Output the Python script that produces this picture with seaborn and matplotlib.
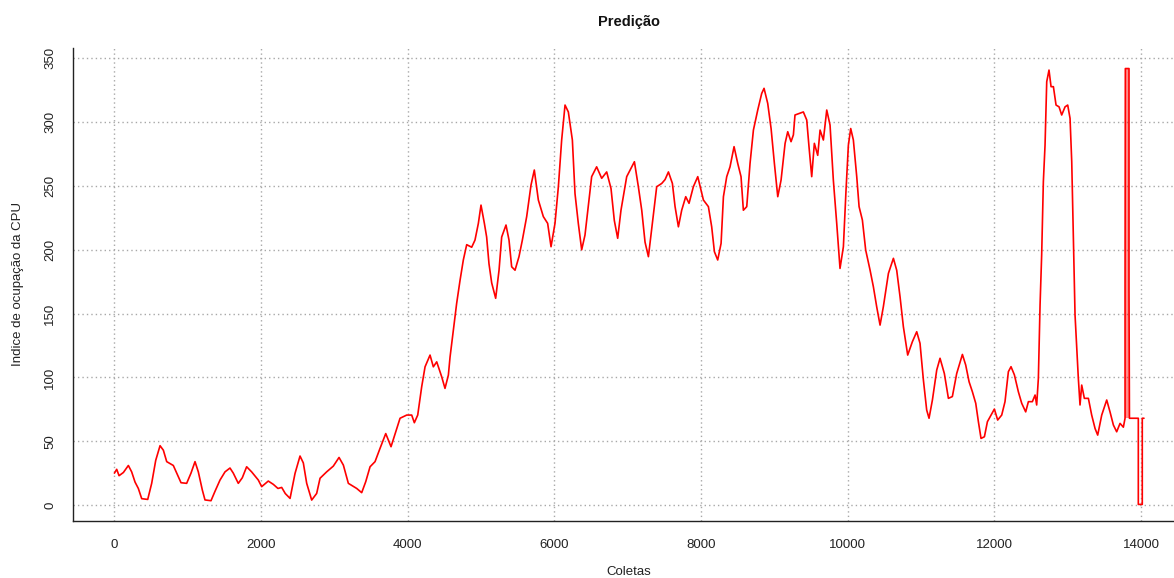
import numpy as np
import pandas as pd
import matplotlib
matplotlib.use("Agg")
import matplotlib.pyplot as plt
import seaborn as sns

# Série prevista: índice da coleta e ocupação da CPU
coleta = [
    0, 31, 63, 122, 190, 235, 281, 326, 372, 454, 508, 563, 622, 667, 713, 803,
    849, 908, 985, 1044, 1099, 1144, 1199, 1235, 1317, 1371, 1440, 1508, 1576,
    1621, 1689, 1744, 1803, 1871, 1962, 2008, 2098, 2167, 2230, 2281, 2330, 2395,
    2463, 2531, 2576, 2622, 2690, 2758, 2804, 2894, 2985, 3063, 3122, 3190, 3304,
    3372, 3427, 3486, 3554, 3622, 3700, 3772, 3836, 3895, 3986, 4054, 4090, 4136,
    4190, 4236, 4304, 4349, 4395, 4463, 4508, 4554, 4577, 4622, 4667, 4713, 4758,
    4804, 4872, 4917, 4963, 4999, 5045, 5076, 5108, 5145, 5199, 5245, 5281, 5340,
    5381, 5417, 5463, 5517, 5563, 5622, 5681, 5726, 5781, 5849, 5908, 5954, 6008,
    6054, 6099, 6145, 6190, 6245, 6281, 6326, 6372, 6417, 6472, 6508, 6576, 6645,
    6713, 6772, 6817, 6863, 6908, 6986, 7032, 7091, 7145, 7191, 7236, 7282, 7336,
    7395, 7464, 7509, 7555, 7609, 7645, 7691, 7736, 7791, 7836, 7895, 7955, 8000,
    8032, 8100, 8145, 8182, 8227, 8273, 8305, 8350, 8395, 8450, 8500, 8545, 8577,
    8623, 8668, 8714, 8773, 8827, 8859, 8909, 8955, 9000, 9046, 9091, 9146, 9182,
    9227, 9259, 9281, 9350, 9395, 9441, 9472, 9509, 9545, 9591, 9623, 9668, 9714,
    9759, 9804, 9850, 9895, 9941, 9977, 10009, 10041, 10077, 10123, 10155, 10200,
    10245, 10305, 10350, 10395, 10441, 10486, 10555, 10623, 10668, 10714, 10759,
    10818, 10882, 10941, 10986, 11032, 11077, 11109, 11155, 11214, 11259, 11318,
    11373, 11427, 11486, 11564, 11609, 11655, 11700, 11746, 11782, 11818, 11864,
    11905, 11955, 12000, 12045, 12100, 12145, 12191, 12227, 12273, 12327, 12373,
    12427, 12464, 12518, 12555, 12577, 12600, 12623, 12645, 12668, 12691, 12714,
    12745, 12773, 12805, 12841, 12882, 12918, 12964, 13000, 13032, 13055, 13078,
    13100, 13123, 13145, 13168, 13191, 13227, 13282, 13327, 13373, 13409, 13464,
    13532, 13577, 13623, 13668, 13714, 13759, 13782, 13782, 13786, 13836, 13836,
    13842, 13963, 13963, 14017, 14017, 14040,
]
ocupacao = [
    25, 28, 23, 25.5, 31, 26, 18, 13, 5, 4.4, 17, 35, 46.5, 43, 34, 31,
    25, 17.5, 17, 25, 34, 26, 11.7, 4, 3.4, 10.7, 19.6, 26, 29,
    25, 17, 21.4, 30, 26, 19.6, 14.4, 18.8, 16.2, 13, 13.8, 9, 5.2,
    24.8, 38.4, 33, 17, 3.9, 9.1, 21, 26, 30.5, 37.3, 31.3, 17, 13,
    9.7, 18.3, 30, 34, 44.4, 56, 45.7, 57.4, 68, 70.5, 70.5, 64.5, 70.5,
    92.6, 108.3, 117.5, 108.3, 112.2, 100.5, 91.4, 101.8, 116, 137, 158, 176, 192,
    204, 202, 207.6, 220.7, 235, 220.7, 210, 189, 174, 162, 184, 210, 219.4,
    207.6, 186.7, 184, 194.6, 207.6, 226, 250.7, 262.5, 239, 226, 220.7, 202.4, 220.7,
    249.4, 286, 313.4, 308, 286, 244, 220.7, 200, 211.5, 239, 257.3, 265, 256,
    261, 248, 223, 209, 231, 257.3, 262.5, 269, 249.4, 231, 206, 194.6, 220.7,
    249.4, 252, 255, 261, 252, 234, 218, 231, 241.6, 236.4, 249.4, 257.3, 246.8,
    239, 233.8, 218, 198.5, 192, 205, 241.6, 257.3, 265, 280.8, 267.7, 257.3, 231,
    233.8, 267.7, 293.8, 309.5, 322.5, 326.5, 314.7, 295, 267.7, 241.6, 254.6, 283.4, 292.5,
    284.7, 290, 305.6, 307, 308, 301.7, 280.8, 257.3, 283.4, 274, 293.8, 286, 309.5,
    297.7, 254.6, 220.7, 185.4, 202.4, 246.8, 282, 295, 286, 257.3, 233.8, 223.3,
    199.8, 184, 171, 155.4, 141, 155.4, 181.5, 193.3, 184, 163, 139.7,
    117.5, 128, 135.8, 126.7, 98, 74.4, 68, 82.3, 105.8, 115, 103,
    83.6, 85, 103, 118, 109.7, 96.6, 88.8, 79.7, 65.3, 52.2, 53.5,
    65.3, 70.5, 75.2, 66.6, 70.5, 81, 104.5, 108.4, 102, 88.8, 79.7,
    73, 81, 81, 86.2, 78.4, 99.3, 156.7, 196, 253.3, 282, 331.7,
    340.8, 327.8, 327.8, 313.4, 312, 305.6, 312, 313.4, 303, 269, 209,
    149, 122.8, 99.3, 78.4, 94, 83.6, 83.6, 70.5, 60, 54.8, 70.5,
    82.3, 73, 62.7, 57.4, 64, 61, 68, 170, 342, 342, 168,
    68, 68, 0.5, 0.5, 68, 68,
]

x_ticks = [0, 2000, 4000, 6000, 8000, 10000, 12000, 14000]
y_ticks = [0, 50, 100, 150, 200, 250, 300, 350]

sns.set_style("white")
plt.rcParams["font.family"] = ["Liberation Sans", "DejaVu Sans"]

W, H = 1174, 578
fig = plt.figure(figsize=(W / 100, H / 100), dpi=100)
ax = fig.add_axes([73 / W, 1 - 521 / H, 1111 / W, 473 / H])

df = pd.DataFrame({"Coletas": coleta, "cpu": ocupacao})
sns.lineplot(data=df, x="Coletas", y="cpu", sort=False, estimator=None,
             color="red", linewidth=1.2, ax=ax)

# Pico final: trecho denso entre o patamar anterior e o topo
x_arr = np.asarray(coleta, dtype=float)
y_arr = np.asarray(ocupacao, dtype=float)
topo = np.where((y_arr >= 340) & (x_arr > 13500))[0]
base = y_arr[topo[0] - 2]
ax.fill_between(x_arr[topo], base, y_arr[topo], color="red", alpha=0.45, lw=0)

ax.set_xlim(-565, 14586)
ax.set_ylim(-12.5, 358.1)
ax.set_xticks(x_ticks)
ax.set_yticks(y_ticks)
ax.set_xticklabels([str(v) for v in x_ticks])
ax.set_yticklabels([str(v) for v in y_ticks], rotation=90, va="center")

ax.grid(True, color="#a8a8a8", linestyle=(0, (1, 2.2)), linewidth=1.0)
ax.set_axisbelow(True)

for s in ("top", "right"):
    ax.spines[s].set_visible(False)
for s in ("left", "bottom"):
    ax.spines[s].set_color("#222222")
    ax.spines[s].set_linewidth(1.0)

ax.tick_params(axis="both", direction="out", length=5.5, width=1.0,
               color="#222222", labelsize=9.5, labelcolor="#222222")
ax.tick_params(axis="x", pad=7.5)
ax.tick_params(axis="y", pad=6.5)

ax.set_title("Predição", fontsize=10.5, fontweight="bold", pad=16, color="#111111")
ax.set_xlabel("Coletas", fontsize=9.5, color="#222222")
ax.xaxis.set_label_coords(0.5, (521 - 572) / 473)
ax.xaxis.label.set_va("center")
ax.set_ylabel("Indice de ocupação da CPU", fontsize=9.5, color="#222222")
ax.yaxis.set_label_coords((18 - 73) / 1111, 0.5)
ax.yaxis.label.set_va("center")

fig.savefig("out.png", dpi=100)
